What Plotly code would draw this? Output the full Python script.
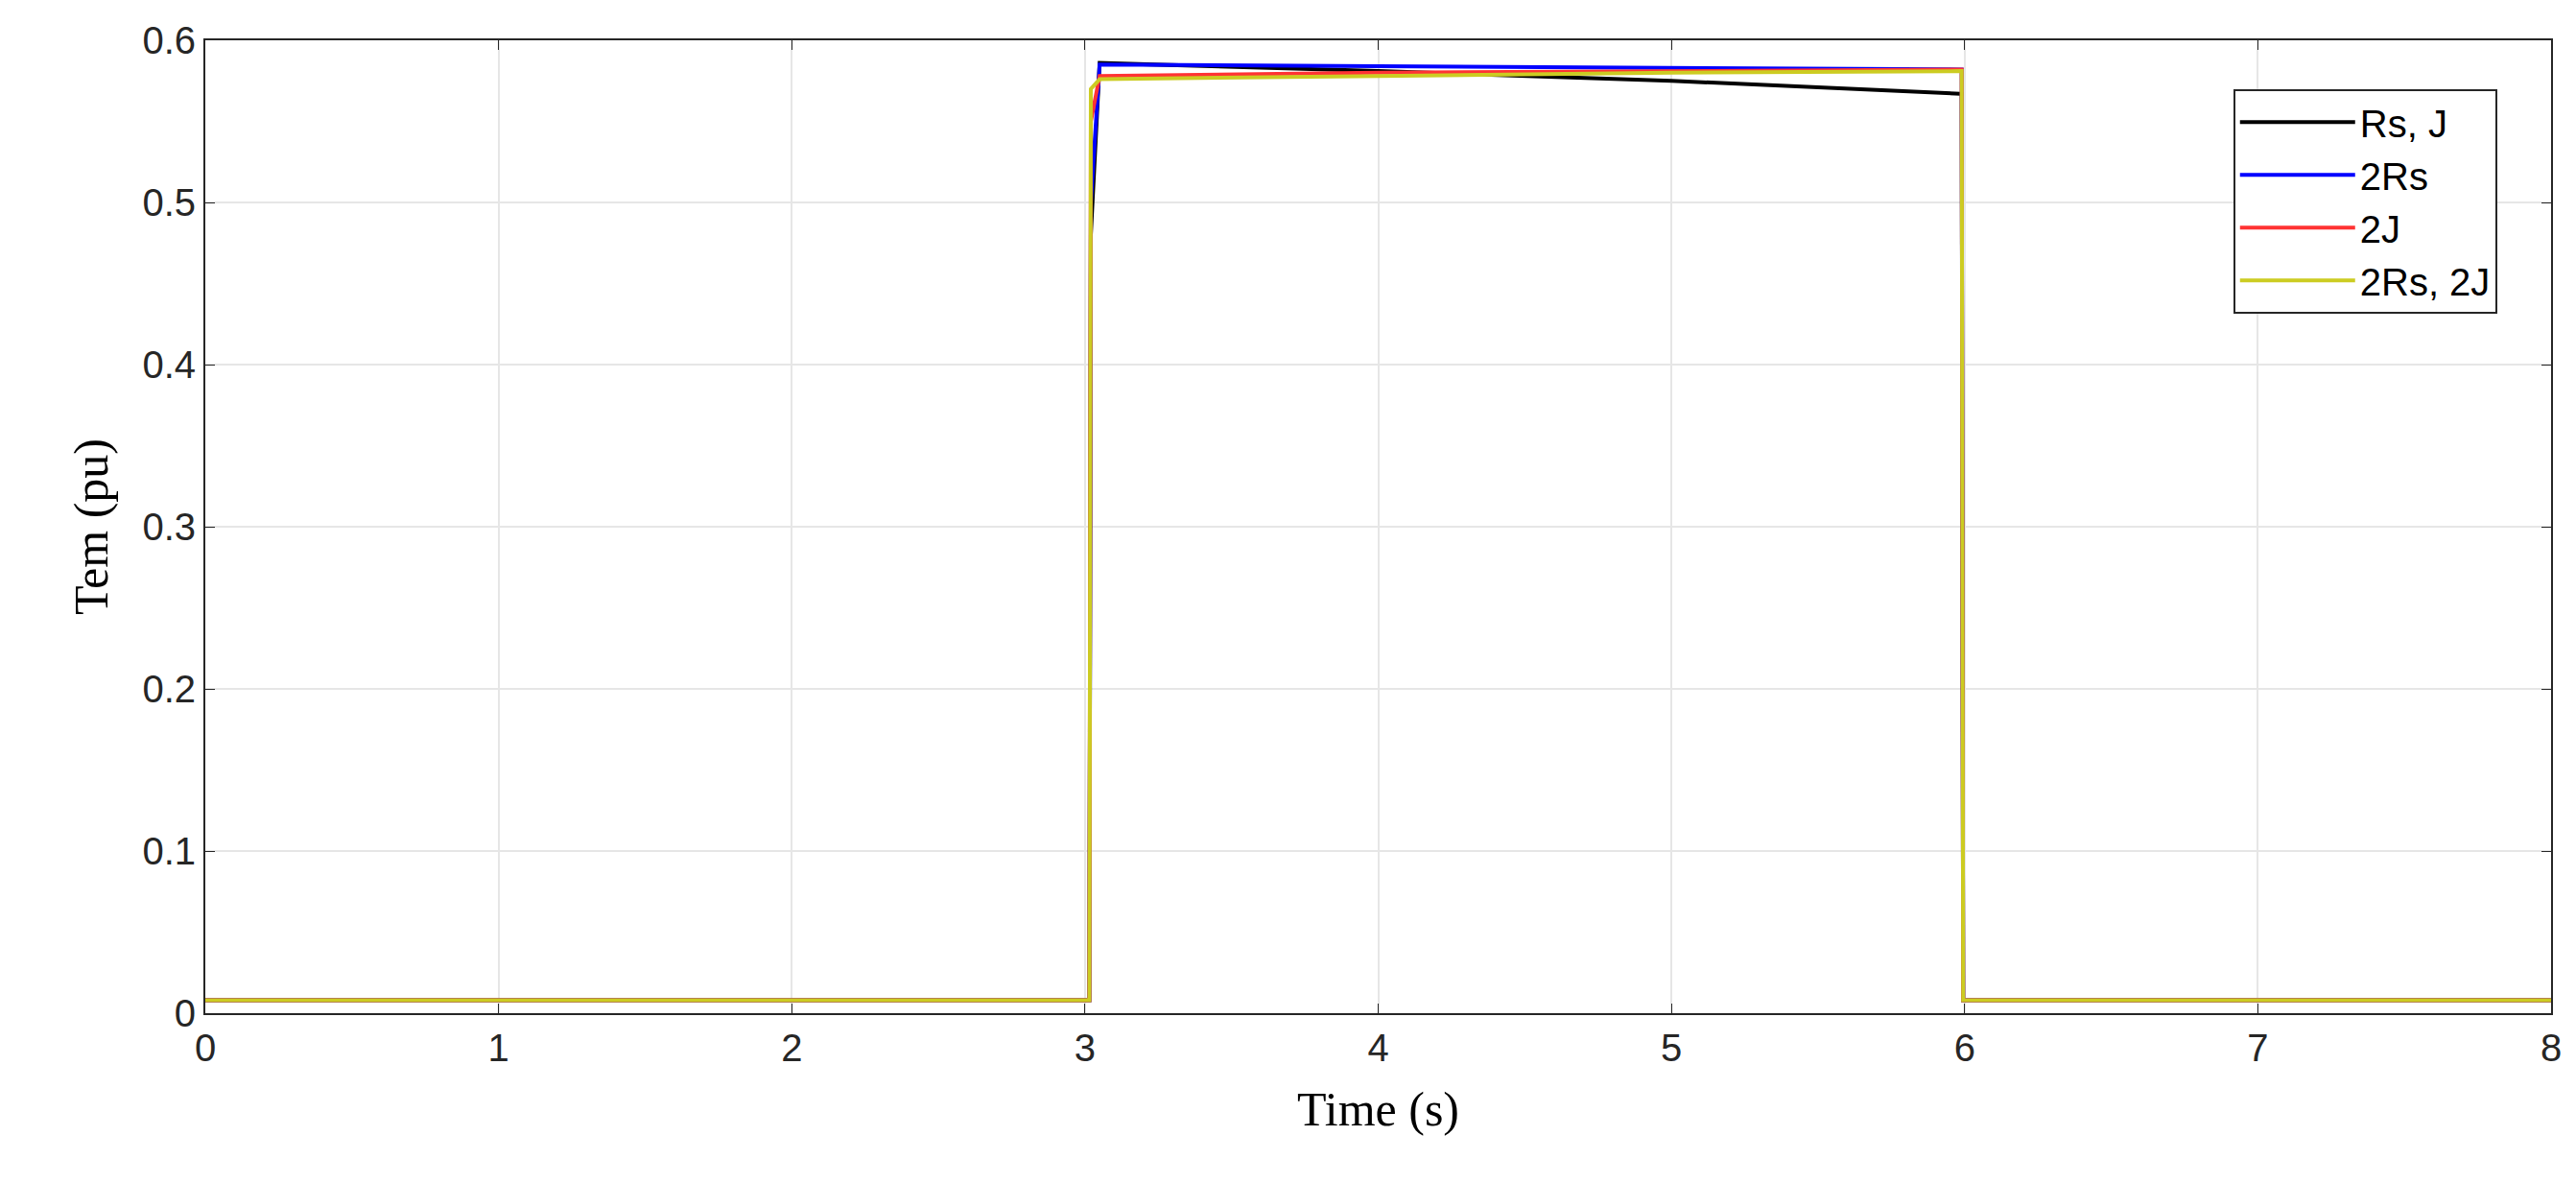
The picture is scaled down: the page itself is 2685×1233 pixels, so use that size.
import plotly.graph_objects as go

names = ["Rs, J", "2Rs", "2J", "2Rs, 2J"]
colors = ["#000000", "#0000ff", "#ff3333", "#cccc22"]
t = [0, 3.015, 3.02, 3.05, 4.0, 5.0, 5.985, 5.99, 5.995, 8.0]
rsj = [0.008, 0.008, 0.48, 0.586, 0.581, 0.575, 0.567, 0.567, 0.008, 0.008]
rs2 = [0.008, 0.008, 0.50, 0.585, 0.584, 0.583, 0.582, 0.582, 0.008, 0.008]
j2 = [0.008, 0.008, 0.55, 0.578, 0.580, 0.581, 0.582, 0.582, 0.008, 0.008]
rs2j2 = [0.008, 0.008, 0.57, 0.576, 0.578, 0.580, 0.581, 0.581, 0.008, 0.008]
series = [rsj, rs2, j2, rs2j2]
xticks = [0, 1, 2, 3, 4, 5, 6, 7, 8]
yticks = [0, 0.1, 0.2, 0.3, 0.4, 0.5, 0.6]

fig = go.Figure()
for n, c, y in zip(names, colors, series):
    fig.add_trace(go.Scatter(x=t, y=y, name=n, mode="lines", line=dict(color=c, width=4)))

ax = dict(showline=True, linecolor="#262626", linewidth=2, mirror="ticks", ticks="inside",
          ticklen=10, tickcolor="#262626", showgrid=True, gridcolor="#e6e6e6", gridwidth=2,
          zeroline=False, tickfont=dict(family="Liberation Sans", size=40, color="#262626"))
fig.update_xaxes(range=[0, 8], tickvals=xticks, title=dict(text="Time (s)", font=dict(family="Liberation Serif", size=50, color="black"), standoff=25), **ax)
fig.update_yaxes(range=[0, 0.6], tickvals=yticks, ticktext=["0", "0.1", "0.2", "0.3", "0.4", "0.5", "0.6"],
                 title=dict(text="Tem (pu)", font=dict(family="Liberation Serif", size=50, color="black"), standoff=20), **ax)
fig.update_layout(width=2685, height=1233, plot_bgcolor="white", paper_bgcolor="white",
                  margin=dict(l=206, r=34, t=30, b=185),
                  legend=dict(x=0.977, y=0.95, xanchor="right", yanchor="top", bgcolor="white",
                              bordercolor="#262626", borderwidth=2,
                              font=dict(family="Liberation Sans", size=40, color="black"),
                              itemwidth=120, tracegroupgap=14))
fig.write_html("out.html")
